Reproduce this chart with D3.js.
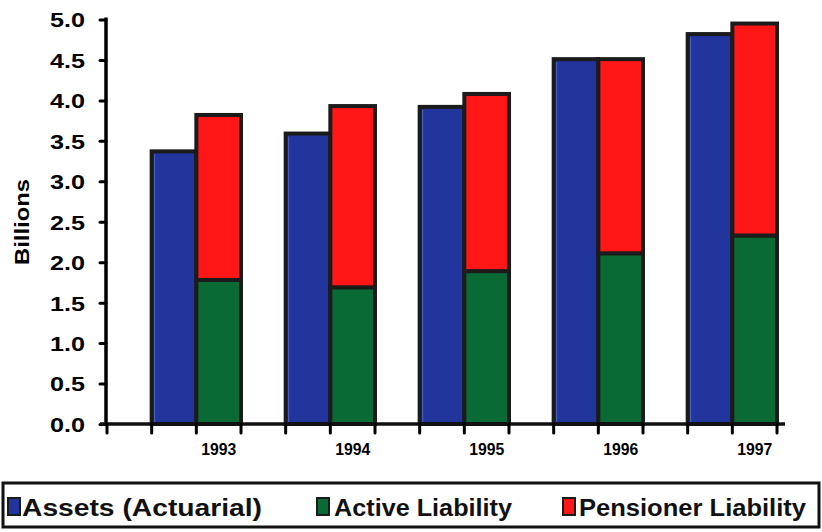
<!DOCTYPE html>
<html>
<head>
<meta charset="utf-8">
<script src="https://cdn.jsdelivr.net/npm/d3@7"></script>
<style>
  html, body { margin: 0; padding: 0; background: #fff; }
  svg { display: block; }
  text { font-family: "Liberation Sans", Arial, sans-serif; }
</style>
</head>
<body>
<svg id="chart" width="822" height="532"></svg>
<script>
// Pension fund: actuarial assets vs. liabilities (billions)
const years = ["1993", "1994", "1995", "1996", "1997"];
const assets = [3.37, 3.59, 3.92, 4.51, 4.82];
const activeLiability = [1.78, 1.69, 1.89, 2.11, 2.33];
const pensionerLiability = [2.04, 2.24, 2.19, 2.40, 2.62];
const yTicks = [0, 0.5, 1, 1.5, 2, 2.5, 3, 3.5, 4, 4.5, 5];
const seriesNames = ["Assets (Actuarial)", "Active Liability", "Pensioner Liability"];
const seriesColors = ["#22359c", "#0a6a35", "#ff1616"];

const svg = d3.select("#chart");
const outline = "#1b1b1b";

const x = d3.scaleBand().domain(years).range([107, 777]).paddingInner(0).paddingOuter(0);
const y = d3.scaleLinear().domain([0, 5]).range([424, 19.5]);
const slot = x.bandwidth() / 3;

// Bars: each year's band is split in thirds — gap, assets, liabilities
const g = svg.append("g");
years.forEach((yr, i) => {
  const x0 = x(yr);
  // assets
  g.append("rect")
    .attr("x", x0 + slot).attr("width", slot)
    .attr("y", y(assets[i])).attr("height", y(0) - y(assets[i]))
    .attr("fill", seriesColors[0]).attr("stroke", outline).attr("stroke-width", 4);
  // light edge inside the assets bar
  g.append("line")
    .attr("x1", x0 + slot + 3).attr("x2", x0 + slot + 3)
    .attr("y1", y(assets[i]) + 3).attr("y2", y(0) - 2)
    .attr("stroke", "#5b78d6").attr("stroke-width", 1).attr("opacity", 0.7);
  // active liability (bottom of stack)
  g.append("rect")
    .attr("x", x0 + 2 * slot).attr("width", slot)
    .attr("y", y(activeLiability[i])).attr("height", y(0) - y(activeLiability[i]))
    .attr("fill", seriesColors[1]).attr("stroke", outline).attr("stroke-width", 4);
  // pensioner liability (top of stack)
  const top = activeLiability[i] + pensionerLiability[i];
  g.append("rect")
    .attr("x", x0 + 2 * slot).attr("width", slot)
    .attr("y", y(top)).attr("height", y(activeLiability[i]) - y(top))
    .attr("fill", seriesColors[2]).attr("stroke", outline).attr("stroke-width", 4);
});

// Y axis
const yAxis = d3.axisLeft(y).tickValues(yTicks).tickFormat(d3.format(".1f")).tickSize(6).tickPadding(15);
const ya = svg.append("g").attr("transform", "translate(106,0)").call(yAxis);
ya.select(".domain").attr("stroke", "#000").attr("stroke-width", 3.5)
  .attr("d", `M0,${y(5) - 2}V${y(0) + 2}`);
ya.selectAll(".tick line").attr("stroke", "#000").attr("stroke-width", 3).attr("stroke-linecap", "round");
ya.selectAll(".tick text")
  .attr("font-size", 20.5).attr("font-weight", "bold").attr("fill", "#000")
  .attr("dy", "0.36em")
  .attr("textLength", 35).attr("lengthAdjust", "spacingAndGlyphs");

// X axis: baseline, ticks at every third of a band, year labels under the liability bars
const tickPos = d3.range(years.length * 3 + 1).map(k => 107 + k * slot);
svg.append("line")
  .attr("x1", 100).attr("x2", 785).attr("y1", y(0)).attr("y2", y(0))
  .attr("stroke", "#111").attr("stroke-width", 3.5);
svg.append("g").selectAll("line").data(tickPos).join("line")
  .attr("x1", d => d).attr("x2", d => d)
  .attr("y1", y(0)).attr("y2", y(0) + 9)
  .attr("stroke", "#000").attr("stroke-width", 3).attr("stroke-linecap", "round");
svg.append("g").selectAll("text").data(years).join("text")
  .attr("x", d => x(d) + 2.5 * slot).attr("y", 455)
  .attr("text-anchor", "middle")
  .attr("font-size", 16).attr("font-weight", "bold").attr("fill", "#000")
  .attr("textLength", 35).attr("lengthAdjust", "spacingAndGlyphs")
  .text(d => d);

// Y axis title
svg.append("text")
  .attr("transform", "translate(29,222) rotate(-90)")
  .attr("text-anchor", "middle")
  .attr("font-size", 21).attr("font-weight", "bold").attr("fill", "#000")
  .attr("textLength", 86).attr("lengthAdjust", "spacingAndGlyphs")
  .text("Billions");

// Legend
const legend = svg.append("g");
legend.append("rect")
  .attr("x", 3).attr("y", 483).attr("width", 816).attr("height", 44)
  .attr("fill", "#fff").attr("stroke", "#111").attr("stroke-width", 3);
const legendItems = [
  { name: seriesNames[0], color: seriesColors[0], sx: 8, tx: 22, tw: 240 },
  { name: seriesNames[1], color: seriesColors[1], sx: 317, tx: 334, tw: 178 },
  { name: seriesNames[2], color: seriesColors[2], sx: 563, tx: 579, tw: 227 }
];
legendItems.forEach(it => {
  legend.append("rect")
    .attr("x", it.sx).attr("y", 498).attr("width", 12).attr("height", 17)
    .attr("fill", it.color).attr("stroke", outline).attr("stroke-width", 2);
  legend.append("text")
    .attr("x", it.tx).attr("y", 516)
    .attr("font-size", 23).attr("font-weight", "bold").attr("fill", "#111")
    .attr("textLength", it.tw).attr("lengthAdjust", "spacingAndGlyphs")
    .text(it.name);
});
</script>
</body>
</html>
